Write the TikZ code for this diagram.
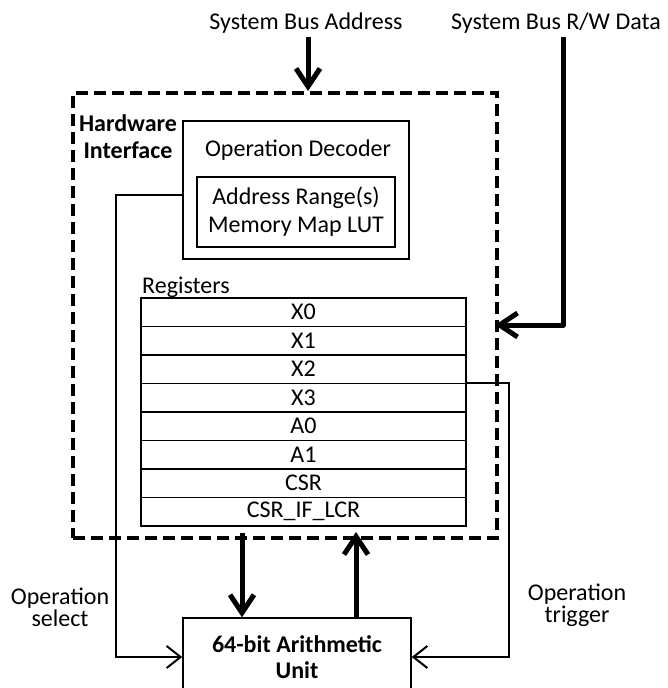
\documentclass[tikz,border=0pt]{standalone}
\usepackage{fontspec}
\setmainfont{Carlito}
\usetikzlibrary{arrows.meta}
\begin{document}
\begin{tikzpicture}[x=1pt,y=-1pt,
  every node/.style={font=\fontsize{24}{28}\selectfont},
  box/.style={draw,line width=1.5pt,inner sep=0pt},
  regbox/.style={draw,line width=1.5pt,minimum width=325pt,minimum height=28.5pt,inner sep=0pt,anchor=north},
  thinarrow/.style={line width=2pt,-{Straight Barb[length=14pt,width=22pt]}},
  boldarrow/.style={line width=5pt,line join=round,-{Straight Barb[length=18pt,width=24pt]}}]
\useasboundingbox (0,0) rectangle (667,688);
% hardware interface dashed box
\node[draw,line width=3.5pt,dash pattern=on 12pt off 6pt,minimum width=424pt,minimum height=445pt,inner sep=0pt] (hw) at (285,315.5) {};
\node[align=center,font={\fontsize{24}{27}\selectfont\bfseries}] (hwl) at (128,137) {Hardware\\Interface};
% operation decoder
\node[box,minimum width=226pt,minimum height=138pt] (dec) at (296,190) {};
\node (dect) at (298,150) {Operation Decoder};
\node[box,minimum width=198pt,minimum height=70pt,align=center] (lut) at (296,212) {Address Range(s)\\Memory Map LUT};
% registers
\node[anchor=base west,inner sep=0pt] (regl) at (142,293) {Registers};
\foreach \i/\t in {0/X0,1/X1,2/X2,3/X3,4/A0,5/A1,6/CSR,7/CSR\_IF\_LCR}
  \node[regbox] (r\i) at (303.5,{297+\i*28.5}) {\t};
% arithmetic unit
\node[box,minimum width=228pt,minimum height=78pt,align=center,font={\fontsize{24}{26}\selectfont\bfseries}] (au) at (297,657) {64-bit Arithmetic\\Unit};
% labels
\node[align=center,font={\fontsize{24}{22}\selectfont}] (opsel) at (60,607) {Operation\\select};
\node[align=center,font={\fontsize{24}{22}\selectfont}] (optrig) at (577,605) {Operation\\trigger};
\node (addr) at (306,23) {System Bus Address};
\node (rw) at (556,23) {System Bus R/W Data};
% bus arrows
\coordinate (addrtip) at (308,91);
\draw[boldarrow] (addr.south -| addrtip) -- (addrtip);
\coordinate (rwturn) at (563,325);
\coordinate (rwtip) at (495,325);
\draw[boldarrow] (rw.south -| rwturn) -- (rwturn) -- (rwtip);
% operation select / trigger
\draw[thinarrow] ([yshift=-5pt]dec.west) -- ++(-66,0) |- (au.west);
\draw[thinarrow] (r3.north east) -- ++(42,0) |- (au.east);
% data arrows
\coordinate (dn) at (242,533);
\draw[boldarrow] (dn) -- (dn |- au.north);
\coordinate (up) at (356,532);
\draw[boldarrow] (up |- au.north) -- (up);
\end{tikzpicture}
\end{document}
